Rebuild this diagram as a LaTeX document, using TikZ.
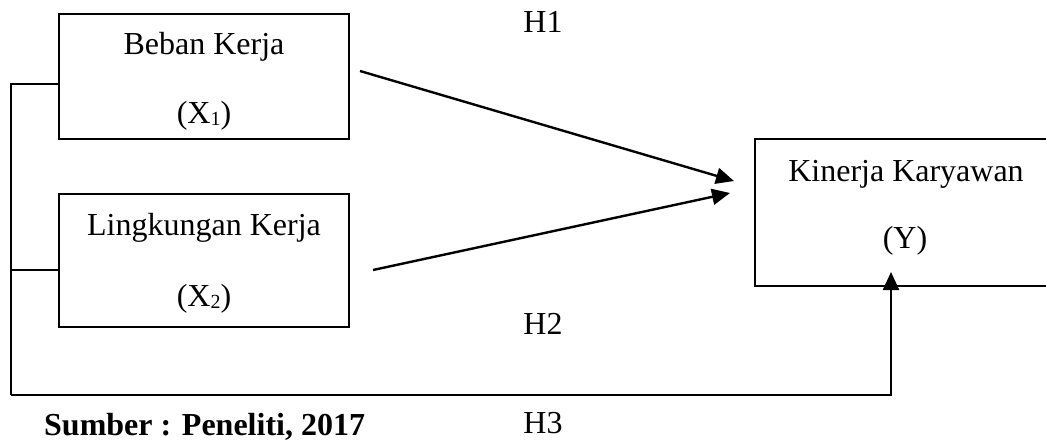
\documentclass[tikz,border=0pt]{standalone}
\usepackage{fontspec}
\setmainfont{Liberation Serif}
\usetikzlibrary{arrows.meta,calc}
\newcommand{\lowidx}[1]{\raisebox{-2pt}{\fontsize{20}{20}\selectfont #1}}
\begin{document}
\begin{tikzpicture}[x=1pt,y=-1pt,
  varbox/.style={draw,line width=2.4pt,inner sep=0pt,outer sep=0pt},
  lbl/.style={anchor=base,inner sep=0pt,font=\fontsize{32}{38}\selectfont},
  link/.style={line width=2.4pt},
  arr/.style={line width=2.4pt,-{Triangle[length=18pt,width=16pt]}}]
\useasboundingbox (0,0) rectangle (1046,441);
\clip (0,0) rectangle (1046,441);

% variable boxes
\node[varbox,minimum width=290pt,minimum height=125pt] (x1) at (204,76.5) {};
\node[varbox,minimum width=290pt,minimum height=133pt] (x2) at (204,260.5) {};
\node[varbox,minimum width=297pt,minimum height=147pt] (y) at (903.5,212.5) {};

% box texts
\node[lbl] (t1a) at (204,55) {Beban Kerja};
\node[lbl] (t1b) at (204,124) {(X\lowidx{1})};
\node[lbl] (t2a) at (204,235) {Lingkungan Kerja};
\node[lbl] (t2b) at (204,306) {(X\lowidx{2})};
\node[lbl] (t3a) at (906,181) {Kinerja Karyawan};
\node[lbl] (t3b) at (905,248) {(Y)};

% hypothesis labels
\node[lbl] (h1) at (543,33) {H1};
\node[lbl] (h2) at (543,334) {H2};
\node[lbl] (h3) at (543,433) {H3};
\node[lbl,anchor=base west,font=\fontsize{32}{38}\selectfont\bfseries] (src) at (44,435) {Sumber : Peneliti, 2017};

% direct paths
\coordinate (h1s) at (360,71);
\coordinate (h1e) at (734,181);
\coordinate (h2s) at (373,270);
\coordinate (h2e) at (730,193);
\draw[arr] (h1s) -- (h1e);
\draw[arr] (h2s) -- (h2e);

% joint path
\coordinate (lx) at (11,0);
\coordinate (bot) at (0,395);
\coordinate (ytip) at (891,272);
\draw[link] ($(x1.west)+(0,7.5)$) -| (lx |- bot);
\draw[link] (x2.west |- 0,270) -- (lx |- 0,270);
\draw[arr] (lx |- bot) -| (ytip);
\end{tikzpicture}
\end{document}
